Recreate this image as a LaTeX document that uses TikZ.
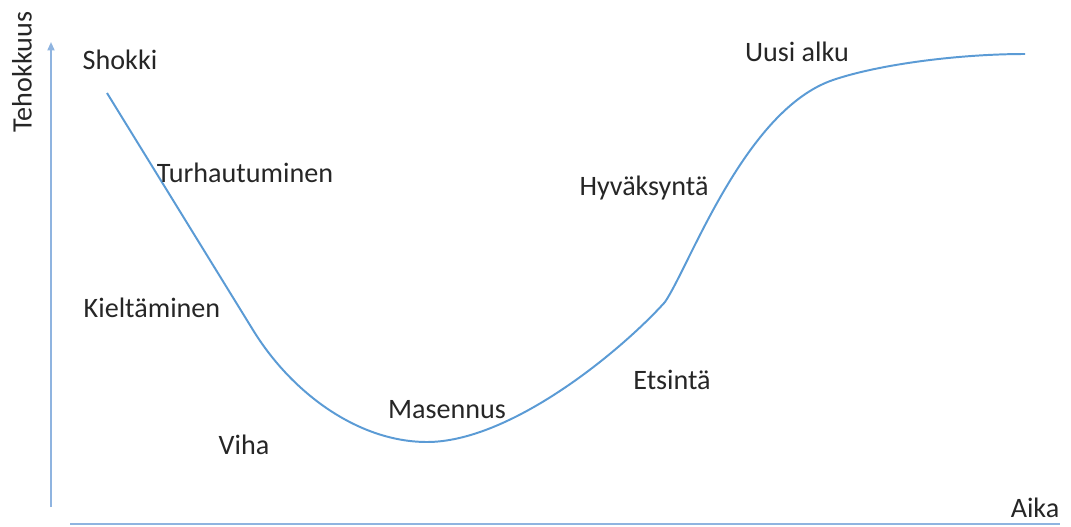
\documentclass[tikz,border=0pt]{standalone}
\usepackage{fontspec}
\setmainfont{Carlito}
\usepackage{tikz}
\usetikzlibrary{positioning, arrows.meta}
\definecolor{kaari}{HTML}{5B9BD5}
\definecolor{akseli}{HTML}{8FB4E0}
\definecolor{teksti}{HTML}{262626}

\begin{document}
\begin{tikzpicture}[x=0.025cm, y=-0.025cm, >={Triangle[width=5pt, length=6pt]},
    vaihe/.style={font=\fontsize{20}{24}\selectfont, text=teksti, inner sep=0pt},
    ax/.style={draw=akseli, line width=1.2pt},
    kayra/.style={draw=kaari, line width=1.4pt}]

    \useasboundingbox (0,0) rectangle (1071,526);

    % ---------------- akselit ----------------
    \coordinate (y0) at (51,507);
    \coordinate (y1) at (51,42);
    \coordinate (x0) at (70,524);
    \coordinate (x1) at (1060,524);
    \draw [ax, ->] (y0) -- (y1);
    \draw [ax, line width=0.9pt] (x0) -- (x1);
    \node (tehok) [vaihe, rotate=90] at (22,72) {Tehokkuus};
    \node (aika)  [vaihe] at (1035,508) {Aika};

    % ---------------- muutoskayra ----------------
    \coordinate (k0) at (107,93);
    \coordinate (k1) at (253,330);
    \coordinate (k2) at (427,442);
    \coordinate (k3) at (665,302);
    \coordinate (k4) at (833,80);
    \coordinate (k5) at (1025,54);
    \draw [kayra] (k0) -- (k1)
        .. controls (293,395) and (360,442) .. (k2)
        .. controls (510,442) and (620,352) .. (k3)
        .. controls (690,265) and (745,110) .. (k4)
        .. controls (880,64) and (960,54) .. (k5);

    % ---------------- vaiheet ----------------
    \node (shokki) [vaihe] at (120,60)  {Shokki};
    \node (turh)   [vaihe] at (245,173) {Turhautuminen};
    \node (kielt)  [vaihe] at (152,308) {Kieltäminen};
    \node (viha)   [vaihe] at (244,445) {Viha};
    \node (mas)    [vaihe] at (447,410) {Masennus};
    \node (etsi)   [vaihe] at (672,380) {Etsintä};
    \node (hyv)    [vaihe] at (644,188) {Hyväksyntä};
    \node (uusi)   [vaihe] at (797,52)  {Uusi alku};
\end{tikzpicture}
\end{document}
